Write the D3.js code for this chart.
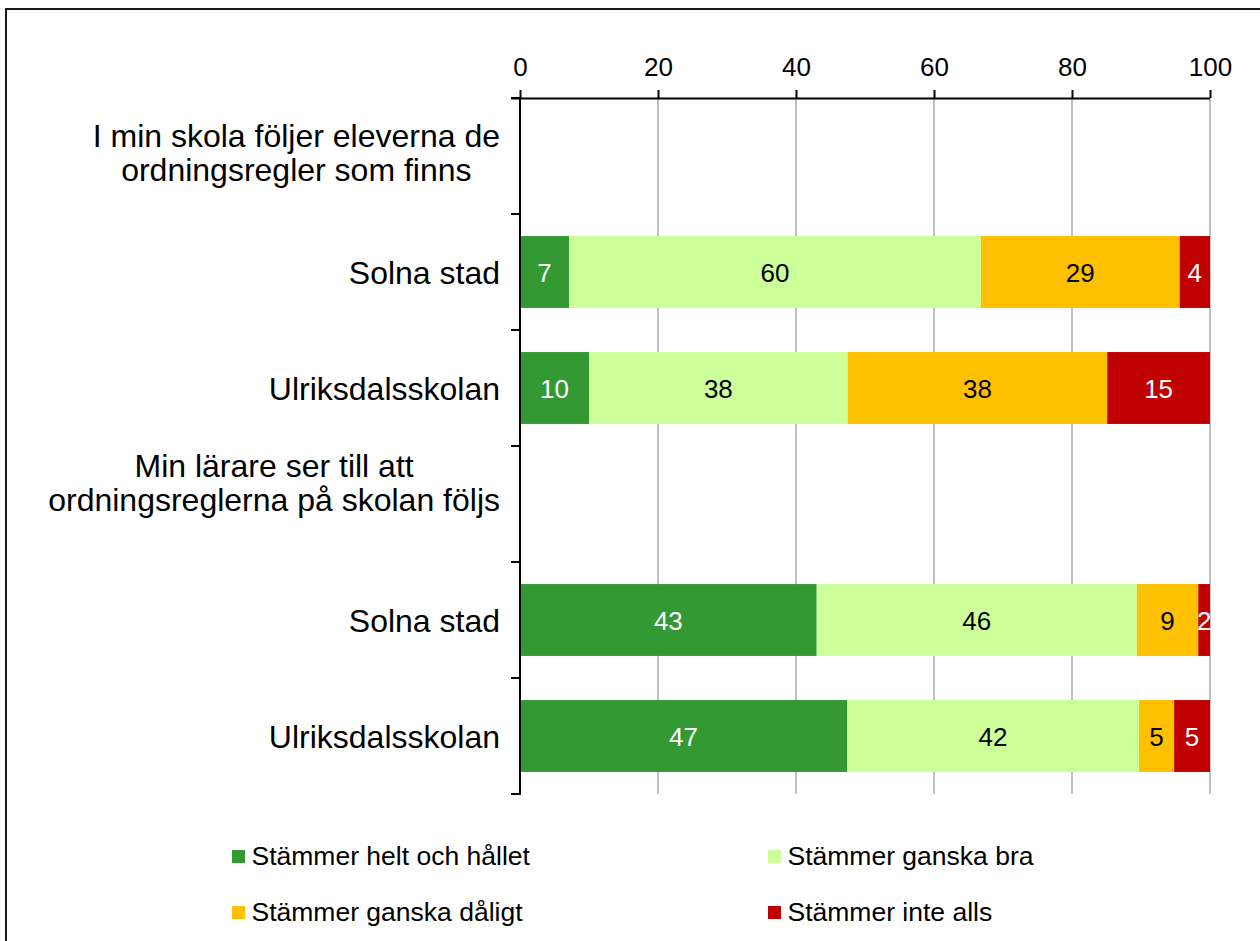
<!DOCTYPE html>
<html>
<head>
<meta charset="utf-8">
<script src="https://cdn.jsdelivr.net/npm/d3@7"></script>
<style>
  body { margin: 0; background: #fff; }
  svg { display: block; font-family: "Liberation Sans", Arial, sans-serif; }
</style>
</head>
<body>
<svg id="chart" width="1260" height="941"></svg>
<script>
// ---- data ----
const categories = [
  "I min skola följer eleverna de\nordningsregler som finns",
  "Solna stad",
  "Ulriksdalsskolan",
  "Min lärare ser till att\nordningsreglerna på skolan följs",
  "Solna stad",
  "Ulriksdalsskolan"
];
const seriesNames = ["Stämmer helt och hållet", "Stämmer ganska bra", "Stämmer ganska dåligt", "Stämmer inte alls"];
const heltOchHallet  = [null, 7.1, 10.0, null, 43.0, 47.4];
const ganskaBra      = [null, 59.7, 37.5, null, 46.4, 42.3];
const ganskaDaligt   = [null, 28.8, 37.6, null, 8.9, 5.1];
const inteAlls       = [null, 4.4, 14.9, null, 1.7, 5.2];
const xTicks = [0, 20, 40, 60, 80, 100];

// ---- styles ----
const colors = ["#339933", "#CCFF99", "#FFC000", "#C00000"];
const labelColors = ["#ffffff", "#000000", "#000000", "#ffffff"];
const series = [heltOchHallet, ganskaBra, ganskaDaligt, inteAlls];

const svg = d3.select("#chart");

// outer frame
svg.append("rect").attr("x", 6).attr("y", 9).attr("width", 1300).attr("height", 1000)
  .attr("fill", "none").attr("stroke", "#1a1a1a").attr("stroke-width", 2);

const x = d3.scaleLinear().domain([0, 100]).range([520, 1210]);
const y = d3.scaleBand().domain(d3.range(categories.length)).range([98, 794]).padding(0);
const barH = y.bandwidth() * 0.62;

// gridlines
svg.append("g").selectAll("line").data(xTicks.filter(d => d > 0)).join("line")
  .attr("x1", d => x(d)).attr("x2", d => x(d))
  .attr("y1", 98).attr("y2", 794)
  .attr("stroke", "#c0c0c0").attr("stroke-width", 2);

// stacked bars
const stackData = categories.map((c, i) => {
  let acc = 0;
  return series.map((s, k) => {
    const v = s[i];
    const seg = { i, k, v, x0: acc, x1: acc + (v || 0) };
    acc += (v || 0);
    return seg;
  });
}).flat().filter(d => d.v != null);

svg.append("g").selectAll("rect").data(stackData).join("rect")
  .attr("x", d => x(d.x0))
  .attr("width", d => x(d.x1) - x(d.x0))
  .attr("y", d => y(d.i) + (y.bandwidth() - barH) / 2)
  .attr("height", barH)
  .attr("fill", d => colors[d.k]);

svg.append("g").selectAll("text").data(stackData).join("text")
  .attr("x", d => (x(d.x0) + x(d.x1)) / 2)
  .attr("y", d => y(d.i) + y.bandwidth() / 2 + 9.5)
  .attr("text-anchor", "middle")
  .attr("font-size", "26px")
  .attr("fill", d => labelColors[d.k])
  .text(d => Math.round(d.v));

// top axis
const xAxis = d3.axisTop(x).tickValues(xTicks).tickSize(8).tickPadding(14).tickFormat(d3.format("d"));
const gx = svg.append("g").attr("transform", "translate(0,98)").call(xAxis);
gx.select(".domain").attr("d", `M511,0.5H${x(100)}`).attr("stroke", "#000").attr("stroke-width", 2);
gx.selectAll(".tick line").attr("stroke", "#000").attr("stroke-width", 2);
gx.selectAll(".tick text").attr("font-size", "26px").attr("fill", "#000")
  .attr("font-family", "Liberation Sans, Arial, sans-serif");

// left axis
const yTickPos = d3.range(categories.length + 1).map(i => 98 + i * y.bandwidth());
svg.append("line").attr("x1", 520).attr("x2", 520).attr("y1", 98).attr("y2", 795)
  .attr("stroke", "#000").attr("stroke-width", 2);
svg.append("g").selectAll("line").data(yTickPos).join("line")
  .attr("x1", 511).attr("x2", 520).attr("y1", d => d).attr("y2", d => d)
  .attr("stroke", "#000").attr("stroke-width", 2);

// category labels
const labelShift = [-9, 0, 0, -27, 0, 0];
const lineH = 33.5;
const catG = svg.append("g").attr("font-size", "32px").attr("fill", "#000");
categories.forEach((c, i) => {
  const lines = c.split("\n");
  const cy = y(i) + y.bandwidth() / 2;
  if (lines.length === 1) {
    catG.append("text").attr("x", 500).attr("y", cy + 11.5).attr("text-anchor", "end").text(c);
  } else {
    const t = catG.append("text").attr("text-anchor", "middle");
    const spans = lines.map((l, j) => t.append("tspan").attr("y", cy + labelShift[i] + j * lineH).text(l));
    const maxW = d3.max(spans, s => s.node().getComputedTextLength());
    spans.forEach(s => s.attr("x", 500 - maxW / 2));
  }
});

// legend
const legendPos = [[232, 865], [768, 865], [232, 921], [768, 921]];
const lg = svg.append("g").selectAll("g").data(seriesNames).join("g")
  .attr("transform", (d, k) => `translate(${legendPos[k][0]},${legendPos[k][1]})`);
lg.append("rect").attr("x", 0).attr("y", -15).attr("width", 13).attr("height", 13)
  .attr("fill", (d, k) => colors[k]);
lg.append("text").attr("x", 19.5).attr("y", 0).attr("font-size", "26.5px").attr("fill", "#000")
  .text(d => d);
</script>
</body>
</html>
